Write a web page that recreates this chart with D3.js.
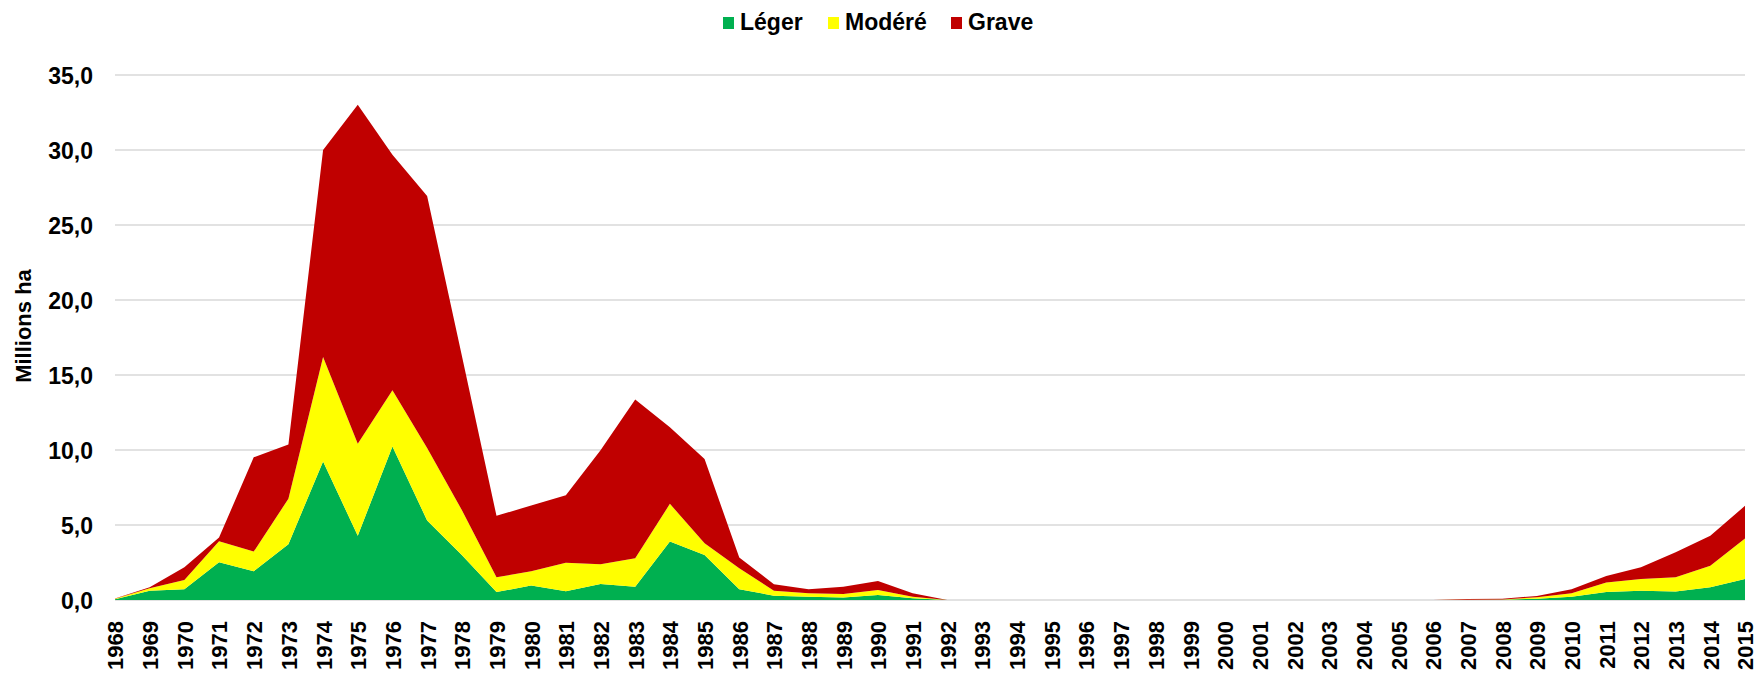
<!DOCTYPE html>
<html>
<head lang="fr">
    <meta charset="UTF-8">
    <title>Superficie affectée</title>
    <script src="https://d3js.org/d3.v7.min.js" charset="utf-8"></script>
    <style>
        body { margin: 0; background: #fff; }
        svg text { font-family: "Liberation Sans", Arial, sans-serif; font-weight: bold; fill: #000; }
    </style>
</head>
<body>
<div id="chart"></div>
<script>
    // categories
    var years = [1968, 1969, 1970, 1971, 1972, 1973, 1974, 1975, 1976, 1977,
                 1978, 1979, 1980, 1981, 1982, 1983, 1984, 1985, 1986, 1987,
                 1988, 1989, 1990, 1991, 1992, 1993, 1994, 1995, 1996, 1997,
                 1998, 1999, 2000, 2001, 2002, 2003, 2004, 2005, 2006, 2007,
                 2008, 2009, 2010, 2011, 2012, 2013, 2014, 2015];

    // millions ha
    var leger  = [0.05, 0.62, 0.71, 2.52, 1.92, 3.72, 9.24, 4.28, 10.24, 5.30,
                  3.00, 0.53, 0.96, 0.58, 1.07, 0.89, 3.90, 3.00, 0.71, 0.29,
                  0.22, 0.16, 0.33, 0.11, 0, 0, 0, 0, 0, 0,
                  0, 0, 0, 0, 0, 0, 0, 0, 0, 0,
                  0.01, 0.09, 0.22, 0.53, 0.62, 0.56, 0.85, 1.40];
    var modere = [0.03, 0.16, 0.63, 1.40, 1.31, 3.03, 6.96, 6.14, 3.75, 4.83,
                  3.00, 0.98, 0.96, 1.91, 1.31, 1.89, 2.51, 0.79, 1.41, 0.33,
                  0.23, 0.24, 0.34, 0.11, 0, 0, 0, 0, 0, 0,
                  0, 0, 0, 0, 0, 0, 0, 0, 0, 0.01,
                  0.03, 0.09, 0.23, 0.63, 0.78, 0.95, 1.44, 2.70];
    var grave  = [0.02, 0.07, 0.84, 0.24, 6.28, 3.61, 13.8, 22.6, 15.7, 16.8,
                  10.3, 4.10, 4.38, 4.50, 7.60, 10.58, 5.10, 5.61, 0.71, 0.43,
                  0.26, 0.49, 0.60, 0.23, 0, 0, 0, 0, 0, 0,
                  0, 0, 0, 0, 0, 0, 0, 0, 0, 0.05,
                  0.05, 0.09, 0.26, 0.44, 0.78, 1.67, 1.99, 2.18];

    var seriesNames = ["Léger", "Modéré", "Grave"];
    var seriesColors = ["#00B050", "#FFFF00", "#C00000"];
    var yTicks = [0, 5, 10, 15, 20, 25, 30, 35];

    var w = 1758, h = 677;
    var svg = d3.select("#chart").append("svg").attr("width", w).attr("height", h);

    var rows = years.map(function(y, i) {
        return { year: y, "Léger": leger[i], "Modéré": modere[i], "Grave": grave[i] };
    });
    var stacked = d3.stack().keys(seriesNames)(rows);

    var x = d3.scalePoint().domain(years).range([115, 1745]).padding(0);
    var y = d3.scaleLinear().domain([0, 35]).range([600, 75]);

    // gridlines
    svg.append("g").selectAll("line").data(yTicks).enter().append("line")
        .attr("x1", 115).attr("x2", 1745)
        .attr("y1", function(d) { return y(d); })
        .attr("y2", function(d) { return y(d); })
        .attr("stroke", "#D9D9D9")
        .attr("stroke-width", 1.5);

    var area = d3.area()
        .x(function(d) { return x(d.data.year); })
        .y0(function(d) { return y(d[0]); })
        .y1(function(d) { return y(d[1]); });

    svg.append("g").selectAll("path").data(stacked).enter().append("path")
        .attr("d", area)
        .attr("fill", function(d, i) { return seriesColors[i]; });

    // y axis labels
    var yAxis = d3.axisLeft(y).tickValues(yTicks).tickSize(0).tickPadding(22)
        .tickFormat(function(d) { return d3.format(".1f")(d).replace(".", ","); });
    var gy = svg.append("g").attr("transform", "translate(115,0)").call(yAxis);
    gy.select(".domain").remove();
    gy.selectAll("text").attr("font-size", 23).attr("dy", "0.35em")
        .style("font-family", "'Liberation Sans', Arial, sans-serif").style("font-weight", "bold");

    // x axis labels, rotated
    var xAxis = d3.axisBottom(x).tickSize(0).tickPadding(0);
    var gx = svg.append("g").attr("transform", "translate(0,600)").call(xAxis);
    gx.select(".domain").remove();
    gx.selectAll("text")
        .attr("font-size", 22)
        .attr("text-anchor", "end")
        .attr("transform", "rotate(-90)")
        .attr("x", -21).attr("y", 0).attr("dy", "0.36em")
        .style("font-family", "'Liberation Sans', Arial, sans-serif").style("font-weight", "bold");

    // y title
    svg.append("text")
        .attr("transform", "translate(31,326) rotate(-90)")
        .attr("text-anchor", "middle")
        .attr("font-size", 22)
        .text("Millions ha");

    // legend
    var legendX = [723, 828, 951];
    var lg = svg.append("g").selectAll("g").data(seriesNames).enter().append("g")
        .attr("transform", function(d, i) { return "translate(" + legendX[i] + ",0)"; });
    lg.append("rect").attr("x", 0).attr("y", 17).attr("width", 11).attr("height", 12)
        .attr("fill", function(d, i) { return seriesColors[i]; });
    lg.append("text").attr("x", 17).attr("y", 30).attr("font-size", 23)
        .text(function(d) { return d; });
</script>
</body>
</html>
